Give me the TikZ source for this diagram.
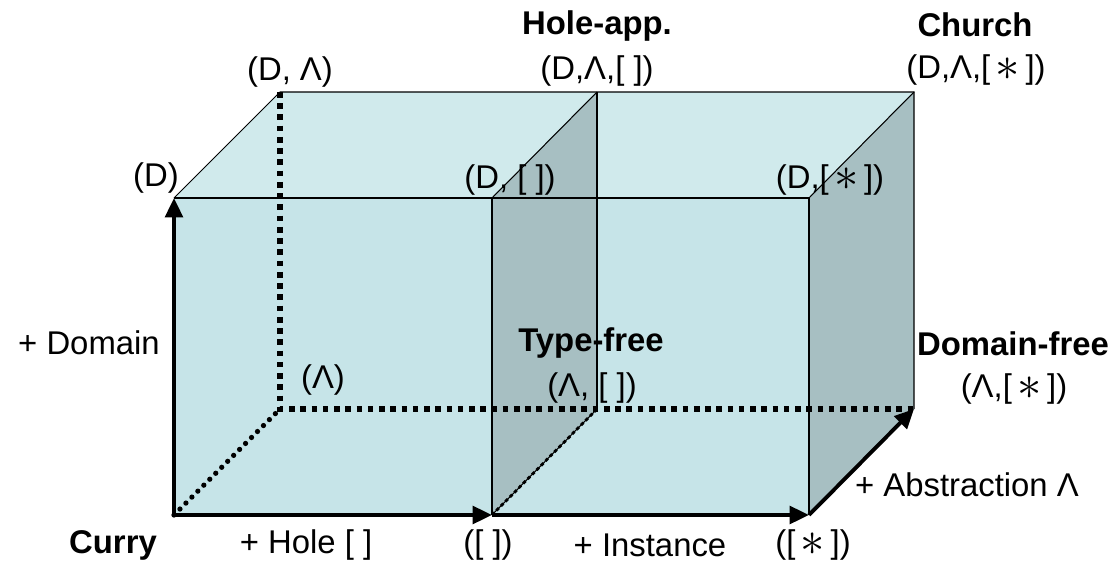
\documentclass[tikz,border=0pt]{standalone}
\usepackage{fontspec}
\setmainfont{Liberation Sans}
\usepackage{xcolor}
\usetikzlibrary{arrows.meta}
\definecolor{frontcolor}{RGB}{198,228,232}
\definecolor{topcolor}{RGB}{208,234,236}
\definecolor{sidecolor}{RGB}{167,191,194}
\newcommand{\bigast}{\raisebox{-0.1ex}{\scalebox{1.6}{$\ast$}}}

\begin{document}
\begin{tikzpicture}[x=0.02cm,y=-0.02cm,
    edge/.style={black,line width=0.6pt},
    axis/.style={black,line width=2.2pt,line join=miter,-{Triangle[length=11pt,width=10pt]}},
    hidden/.style={black,line width=3pt,dash pattern=on 3.2pt off 3.2pt},
    rounddots/.style={black,line width=3pt,line cap=round,dash pattern=on 0pt off 4.8pt},
    finedots/.style={black,line width=1.6pt,dash pattern=on 2pt off 1.6pt},
    lbl/.style={font=\fontsize{18.7}{22}\selectfont,inner sep=0pt},
    title/.style={lbl,font=\fontsize{18.7}{22}\selectfont\bfseries}]
    \useasboundingbox (0,0) rectangle (1117,561);

    % Corners
    \coordinate (fb0) at (174,515);
    \coordinate (fb1) at (492,515);
    \coordinate (fb2) at (809,515);
    \coordinate (ft0) at (174,198);
    \coordinate (ft1) at (492,198);
    \coordinate (ft2) at (809,198);
    \coordinate (bb0) at (280,409);
    \coordinate (bb1) at (597,409);
    \coordinate (bb2) at (914,409);
    \coordinate (bt0) at (280,92);
    \coordinate (bt1) at (597,92);
    \coordinate (bt2) at (914,92);

    % Faces
    \fill[topcolor] (ft0) -- (bt0) -- (bt2) -- (ft2) -- cycle;
    \fill[frontcolor] (fb0) rectangle (ft2);
    \fill[sidecolor] (fb2) -- (ft2) -- (bt2) -- (bb2) -- cycle;
    \fill[sidecolor] (fb1) -- (ft1) -- (bt1) -- (bb1) -- cycle;

    % Edges
    \draw[edge] (ft0) -- (bt0) -- (bt2) -- (bb2);
    \draw[edge] (ft0) -- (ft2) -- (fb2);
    \draw[edge] (ft1) -- (bt1);
    \draw[edge] (ft2) -- (bt2);
    \draw[edge] (fb1) -- (ft1);
    \draw[edge] (fb1) -- (bb1);
    \draw[edge] (bt1) -- (bb1);

    % Hidden edges
    \draw[hidden] (bt0) -- (bb0) -- (bb2);
    \draw[rounddots] (fb0) -- (bb0);
    \draw[finedots] (bt1) -- (bb1);
    \draw[finedots] (fb1) -- (bb1);

    % Axes
    \draw[axis] (fb0) -- (ft0);
    \draw[axis] (fb0) -- (fb1);
    \draw[axis] (fb1) -- (fb2);
    \draw[axis] (fb2) -- (bb2);

    % Corner labels
    \node[lbl] (lD) at (156,178) {(D)};
    \node[lbl] (lDL) at (290,72) {(D, Λ)};
    \node[title] (tHole) at (597,26) {Hole-app.};
    \node[lbl] (lDLH) at (597,71) {(D,Λ,[ ])};
    \node[title] (tChurch) at (975,25) {Church};
    \node[lbl] (lDLS) at (976,70) {(D,Λ,[\,\bigast\,])};
    \node[lbl] (lDH) at (510,180) {(D, [ ])};
    \node[lbl] (lDS) at (830,180) {(D,[\,\bigast\,])};
    \node[lbl] (lL) at (323,380) {(Λ)};
    \node[title] (tType) at (591,343) {Type-free};
    \node[lbl] (lLH) at (592,388) {(Λ, [ ])};
    \node[title] (tDomain) at (1013,344) {Domain-free};
    \node[lbl] (lLS) at (1014,389) {(Λ,[\,\bigast\,])};
    \node[title] (tCurry) at (113,545) {Curry};
    \node[lbl] (lH) at (488,545) {([ ])};
    \node[lbl] (lS) at (813,545) {([\,\bigast\,])};

    % Axis labels
    \node[lbl] (aDomain) at (89,343) {+ Domain};
    \node[lbl] (aHole) at (306,545) {+ Hole [ ]};
    \node[lbl] (aInst) at (650,545) {+ Instance};
    \node[lbl] (aAbs) at (967,485) {+ Abstraction Λ};
\end{tikzpicture}
\end{document}
